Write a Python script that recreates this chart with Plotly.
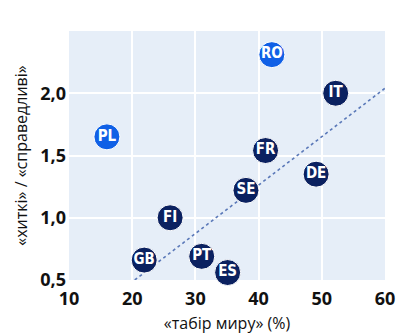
import plotly.graph_objects as go

# Country positions: "peace camp" share (%) vs. hawks / doves ratio
countries = ["PL", "RO", "IT", "FR", "DE", "SE", "FI", "GB", "PT", "ES"]
peace_camp = [16.0, 42.1, 52.2, 41.1, 49.1, 38.0, 26.0, 21.9, 31.0, 35.1]
hawk_dove_ratio = [1.65, 2.31, 2.00, 1.54, 1.35, 1.22, 1.00, 0.66, 0.69, 0.56]
highlight = [True, True, False, False, False, False, False, False, False, False]

# Trend line endpoints
trend_x = [20.4, 60.0]
trend_y = [0.5, 2.04]

navy = "#0b2160"
blue = "#1060e6"
colors = [blue if h else navy for h in highlight]

fig = go.Figure()

fig.add_trace(go.Scatter(
    x=trend_x, y=trend_y, mode="lines",
    line=dict(color="#5a78b8", width=1.6, dash="dot"),
    hoverinfo="skip", showlegend=False,
))

fig.add_trace(go.Scatter(
    x=peace_camp, y=hawk_dove_ratio, mode="markers+text",
    text=countries, textposition="middle center",
    textfont=dict(family="Liberation Sans Narrow, DejaVu Sans Condensed, Arial Narrow",
                  size=15, color="white", weight="bold"),
    marker=dict(size=26, color=colors, line=dict(color="white", width=1)),
    showlegend=False, cliponaxis=False,
))

tick_font = dict(family="Open Sans, Lato, sans-serif", size=18, color="#111111", weight="bold")
title_font = dict(family="Open Sans, sans-serif", size=16, color="#111111")

fig.update_layout(
    width=400, height=334,
    margin=dict(l=69, r=15, t=31, b=54),
    paper_bgcolor="white",
    plot_bgcolor="#e6eef8",
    separators=",.",
    xaxis=dict(
        range=[10, 60], dtick=10, tick0=10, automargin=False,
        showgrid=True, gridcolor="white", gridwidth=2,
        zeroline=False, showline=False, ticks="",
        tickfont=tick_font, ticklabelstandoff=6,
        title=dict(text="«табір миру» (%)", standoff=8, font=title_font),
    ),
    yaxis=dict(
        range=[0.5, 2.5], tickvals=[0.5, 1.0, 1.5, 2.0], tickformat=".1f",
        automargin=False,
        showgrid=True, gridcolor="white", gridwidth=2,
        zeroline=False, showline=False, ticks="",
        tickfont=tick_font, ticklabelstandoff=2,
        title=dict(text="«хиткі» / «справедливі»", standoff=8, font=title_font),
    ),
)

fig.write_html("out.html")
